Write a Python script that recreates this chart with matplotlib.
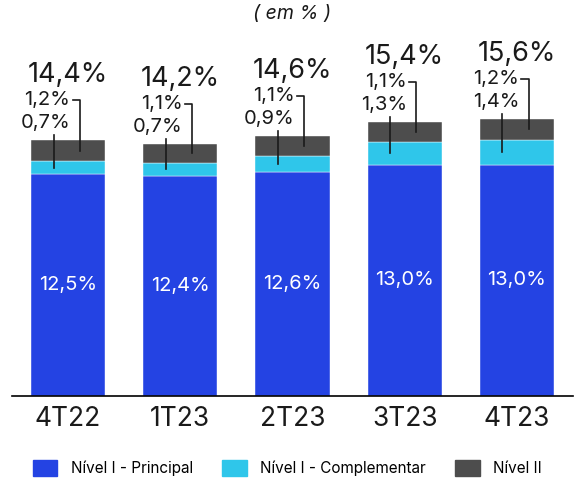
import numpy as np
from matplotlib import pyplot
from matplotlib.patches import Patch

pyplot.rcParams['font.family'] = ['Inter', 'DejaVu Sans']

quarters = ['4T22', '1T23', '2T23', '3T23', '4T23']
principal = [12.5, 12.4, 12.6, 13.0, 13.0]
complementar = [0.7, 0.7, 0.9, 1.3, 1.4]
nivel2 = [1.2, 1.1, 1.1, 1.1, 1.2]
totals = [14.4, 14.2, 14.6, 15.4, 15.6]

c_blue = '#2443e3'
c_cyan = '#2fc6ea'
c_gray = '#4d4d4d'


def pct(v):
    return f'{v:.1f}'.replace('.', ',') + '%'


fig = pyplot.figure(figsize=(5.75, 4.83), dpi=100)
ax = fig.add_axes([12 / 575, 87 / 483, 561 / 575, 374 / 483])
u = 17.78  # pixels per unit on y
ax.set_ylim(0, 374 / u)
ax.set_xlim(-0.5, 4.5)

x = np.arange(len(quarters))
p = np.array(principal)
c = np.array(complementar)
g = np.array(nivel2)
w = 0.66
ax.bar(x, p, w, color=c_blue, edgecolor='white', linewidth=0.3)
ax.bar(x, c, w, bottom=p, color=c_cyan, edgecolor='white', linewidth=0.3)
ax.bar(x, g, w, bottom=p + c, color=c_gray, edgecolor='white', linewidth=0.3)

for i in range(len(quarters)):
    top = p[i] + c[i] + g[i]
    # inside label
    ax.text(x[i], p[i] / 2, pct(principal[i]), color='white', ha='center',
            va='center', fontsize=14.5)
    # total
    ax.text(x[i], top + 65 / u, pct(totals[i]), ha='center', va='center',
            fontsize=19.5, color='#1a1a1a')
    # nivel II label + leader
    y2 = top + 40 / u
    ax.text(x[i] + 0.02, y2, pct(nivel2[i]), ha='right', va='center',
            fontsize=14.5, color='#1a1a1a')
    xg = x[i] + 0.105
    ax.plot([x[i] + 0.04, xg, xg], [y2, y2, p[i] + c[i] + g[i] / 2],
            color='#1a1a1a', lw=1.2)
    # complementar label + leader
    y1 = top + 17 / u
    ax.text(x[i] + 0.02, y1, pct(complementar[i]), ha='right', va='center',
            fontsize=14.5, color='#1a1a1a')
    xc = x[i] - 0.13
    ax.plot([xc, xc], [top + 5 / u, p[i] + c[i] / 2], color='#1a1a1a', lw=1.2)

for s in ['top', 'right', 'left']:
    ax.spines[s].set_visible(False)
ax.spines['bottom'].set_linewidth(1.2)
ax.set_yticks([])
ax.set_xticks(x)
ax.set_xticklabels(quarters, fontsize=19, color='#1a1a1a')
ax.tick_params(axis='x', length=0, pad=7)

fig.text(292 / 575, 1 - 14 / 483, '( em % )', ha='center', va='center',
         fontsize=14, style='italic', color='#1a1a1a')

handles = [Patch(color=c_blue, label='Nível I - Principal'),
           Patch(color=c_cyan, label='Nível I - Complementar'),
           Patch(color=c_gray, label='Nível II')]
fig.legend(handles=handles, loc='center', bbox_to_anchor=(0.5, 1 - 468 / 483),
           ncol=3, frameon=False, fontsize=11, handlelength=1.6,
           handleheight=1.2, columnspacing=1.9, handletextpad=0.9)

fig.savefig('out.png', dpi=100)
